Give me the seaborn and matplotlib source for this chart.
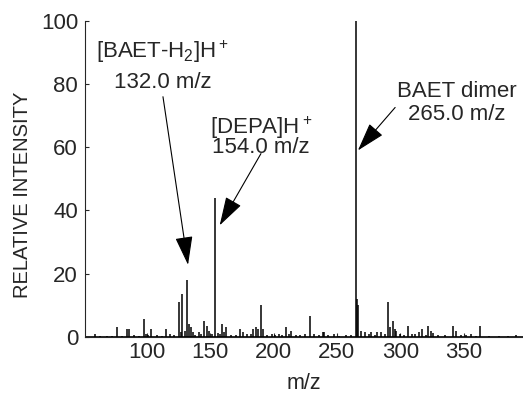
import matplotlib
matplotlib.use("Agg")
import matplotlib.pyplot as plt
import seaborn as sns
import pandas as pd

# peak list (m/z, relative intensity)
mz = [59, 63, 68, 72, 76, 80, 84, 86, 90, 94, 97.6, 99, 101, 103, 108, 112, 115, 118, 121,
      125.5, 127, 128, 130, 131.6, 133, 134.5, 136, 138, 141, 143, 145, 147, 149, 151,
      154, 156, 158, 159.5, 161, 162.6, 166, 170, 173.7, 176, 179, 182, 183.7, 186, 188,
      190, 192, 195, 198.7, 201, 204, 207, 209.5, 212, 214, 218, 221, 224.7, 229, 232,
      236, 239, 240, 243, 247.6, 252, 257, 261, 265, 266, 267, 269, 272, 275, 277, 280,
      282, 285, 288, 290, 291.6, 294, 295.5, 297, 300, 303, 306, 309, 312, 315, 317, 320,
      322, 324, 326, 330, 335, 341.6, 344, 348, 352, 356, 360, 363.4, 370, 378, 385, 391.6]
intensity = [1, 0.3, 0.4, 0.3, 3, 0.4, 2.5, 2.5, 0.5, 0.4, 5.5, 1, 0.6, 2.5, 0.5, 0.4, 2.5, 0.8, 0.5,
             11, 1.5, 13.5, 2, 18, 4, 3, 1.5, 0.6, 1.5, 1, 5, 3.5, 2, 1,
             44, 1.2, 0.8, 4, 1.5, 3, 0.6, 0.5, 2.5, 1.5, 0.8, 1, 2.5, 3, 2.5,
             10, 2.5, 0.6, 1, 0.5, 1, 0.6, 3, 0.8, 2, 0.6, 0.5, 1, 6.5, 0.8,
             0.5, 1.5, 1.5, 0.6, 1, 0.4, 0.5, 0.6, 100, 12, 10, 2, 1.5, 0.8, 1.5, 0.6,
             1.5, 1.5, 0.8, 11, 3, 5, 2.5, 2, 0.8, 0.6, 3.5, 0.8, 1, 1.5, 2.5, 0.6,
             3.5, 2, 1.2, 0.5, 0.6, 3.5, 2, 0.6, 0.5, 1, 0.4, 3.5, 0.4, 0.3, 0.3, 0.5]

df = pd.DataFrame({"mz": mz, "intensity": intensity})

sns.set_style("ticks")
plt.rcParams["font.family"] = ["Liberation Sans", "DejaVu Sans"]
plt.rcParams["mathtext.default"] = "regular"

fig = plt.figure(figsize=(5.23, 3.94), dpi=100)
ax = fig.add_axes([0.1625, 0.145, 0.8375, 0.802])

ax.vlines(df["mz"], 0, df["intensity"], color="black", linewidth=1.1)
ax.axhline(0, color="black", linewidth=1.2)

ax.set_xlim(51, 397)
ax.set_ylim(0, 100)
ax.set_xticks([100, 150, 200, 250, 300, 350])
ax.set_yticks([0, 20, 40, 60, 80, 100])
ax.tick_params(labelsize=16, length=3, width=0.8, direction="in")
ax.tick_params(axis="y", pad=5)
ax.tick_params(axis="x", pad=4)
ax.set_xlabel("m/z", fontsize=15.5)
ax.set_ylabel("RELATIVE INTENSITY", fontsize=14.5)
ax.xaxis.set_label_coords(0.5, -0.115)
ax.yaxis.set_label_coords(-0.12, 0.45)
sns.despine(ax=ax)
ax.spines["left"].set_linewidth(0.8)
ax.spines["bottom"].set_linewidth(0.8)

arrow = dict(arrowstyle="-|>,head_length=1.8,head_width=0.55", color="black",
             linewidth=0.8, shrinkA=0, shrinkB=0)

fs = 16
ax.text(112.4, 88.3, "[BAET-H$_2$]H$^+$", fontsize=fs, ha="center", va="baseline")
ax.text(112.4, 78.8, "132.0 m/z", fontsize=fs, ha="center", va="baseline")
ax.annotate("", xy=(132.4, 22.8), xytext=(112.6, 76), arrowprops=arrow)

ax.text(190, 70.5, "[DEPA]H$^+$\n154.0 m/z", fontsize=fs, ha="center", va="top",
        multialignment="center", linespacing=0.8)
ax.annotate("", xy=(157.4, 35.3), xytext=(190, 58.0), arrowprops=arrow)

ax.text(345, 75.9, "BAET dimer", fontsize=fs, ha="center", va="baseline")
ax.text(345, 68.7, "265.0 m/z", fontsize=fs, ha="center", va="baseline")
ax.annotate("", xy=(266.6, 59), xytext=(296, 72.6), arrowprops=arrow)

fig.savefig("out.png", dpi=100)
